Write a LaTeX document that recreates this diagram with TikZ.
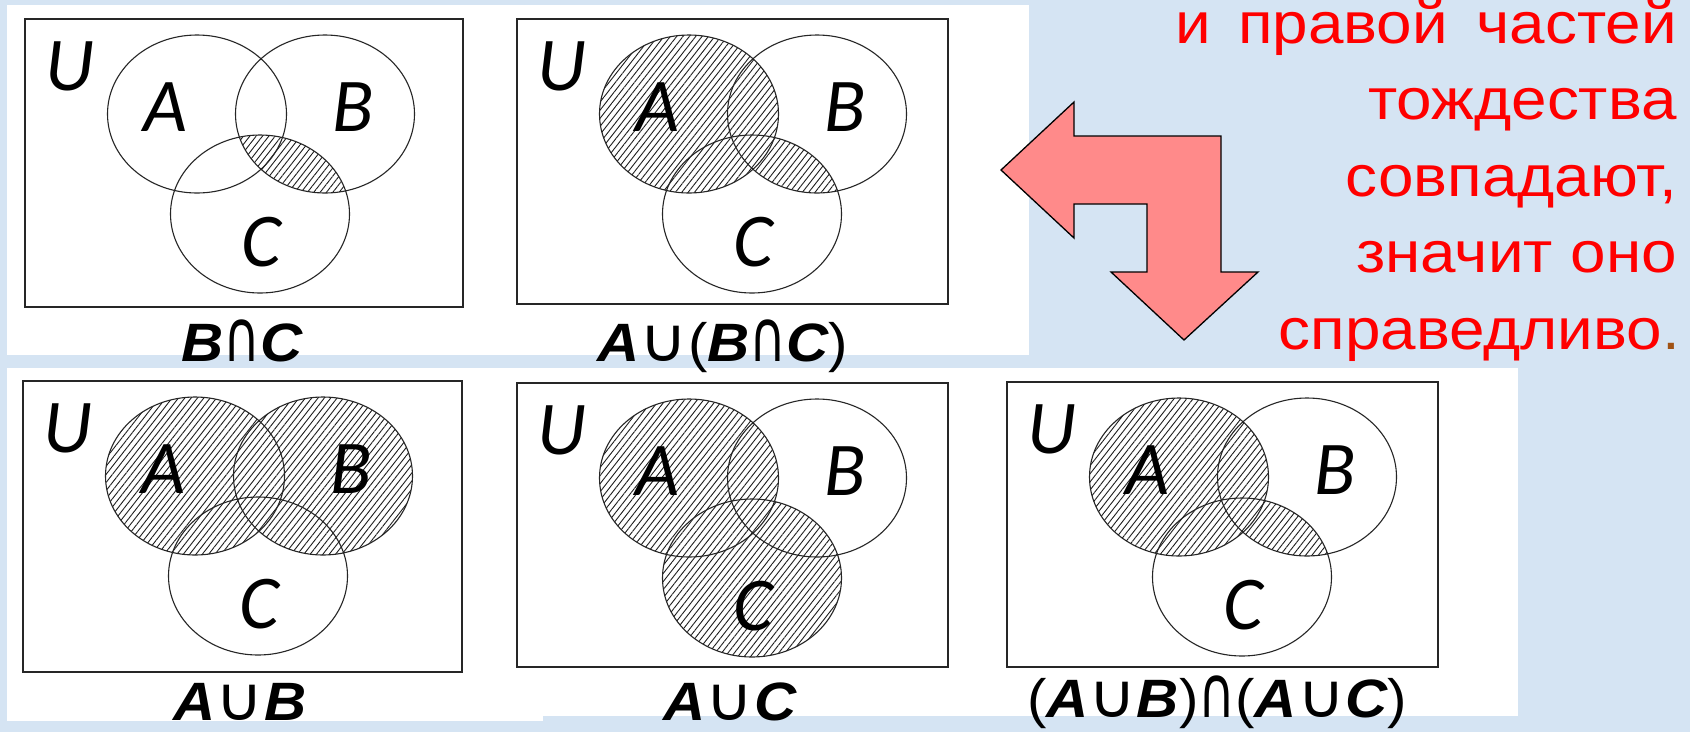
\documentclass[tikz,border=0pt]{standalone}
\usepackage{fontspec}
\setmainfont{Liberation Sans}
\newfontfamily\vennfont{Carlito}
\newfontfamily\symfont{DejaVu Sans}
\usetikzlibrary{patterns.meta}
\definecolor{bgblue}{RGB}{213,228,243}
\definecolor{arrowpink}{RGB}{255,138,138}
\definecolor{dotbrown}{RGB}{160,82,20}
\definecolor{hatchgray}{RGB}{30,30,30}
\tikzset{
 hatch/.style={pattern={Lines[angle=52,distance=5pt,line width=0.9pt]}, pattern color=hatchgray},
 ubox/.style={draw=black!85, line width=1.6pt},
 vcirc/.style={draw=black!85, line width=1.1pt},
 setlabel/.style={inner sep=0pt, font=\vennfont\itshape\fontsize{76}{76}\selectfont},
 caption/.style={inner sep=0pt, anchor=base, font=\fontsize{54}{54}\selectfont\bfseries\itshape},
 redtxt/.style={inner sep=0pt, text=red, font=\fontsize{58}{58}\selectfont},
 panel/.style={fill=white, draw=none},
 arrowshape/.style={fill=arrowpink, draw=black, line width=1.3pt, line join=miter}
}
\def\vEA{(172,95) ellipse [x radius=89.5pt, y radius=79pt]}
\def\vEB{(300,95) ellipse [x radius=89.5pt, y radius=79pt]}
\def\vEC{(235,195) ellipse [x radius=89.5pt, y radius=79pt]}
\newcommand\vennbox[6]{%
 \begin{scope}[shift={(#2,#3)}]
  #6
  \draw[vcirc] \vEA; \draw[vcirc] \vEB; \draw[vcirc] \vEC;
  \draw[ubox] (0,0) rectangle (#4,#5);
  \node[setlabel] (#1-U) at (45,47) {U};
  \node[setlabel] (#1-A) at (140,88) {A};
  \node[setlabel] (#1-B) at (328,88) {B};
  \node[setlabel] (#1-C) at (236,223) {C};
 \end{scope}}
\newcommand\AorBC{\fill[hatch] \vEA;
  \begin{scope}\clip \vEB;
   \begin{scope}[even odd rule]\clip (-200,-200) rectangle (700,500) \vEA;
    \fill[hatch, nonzero rule] \vEC; \end{scope}\end{scope}}
\newcommand\sx[1]{\scalebox{1.1}[1]{#1}}
\newcommand\capx[1]{\scalebox{1.08}[1]{#1}}
\newcommand\ucup{\raisebox{0pt}[\height][0pt]{\symfont\mdseries\upshape\fontsize{61}{61}\selectfont ∪}}
\newcommand\ucap{\raisebox{0pt}[\height][0pt]{\symfont\mdseries\upshape\fontsize{72}{72}\selectfont\scalebox{0.65}[1]{∩}}}
\newcommand\lpar{{\mdseries\upshape (}}
\newcommand\rpar{{\mdseries\upshape )}}
\begin{document}
\begin{tikzpicture}[x=1pt,y=-1pt]
\useasboundingbox (0,0) rectangle (1690,732);
\fill[bgblue] (0,0) rectangle (1690,732);
\fill[panel] (7,5) rectangle (1029,355);
\fill[panel] (7,368) rectangle (543,721);
\fill[panel] (543,368) rectangle (1518,716);
% arrow
\draw[arrowshape] (1001,170) -- (1074,102) -- (1074,136) -- (1221,136) -- (1221,272) -- (1258,272) -- (1184,340) -- (1111,272) -- (1147,272) -- (1147,204) -- (1074,204) -- (1074,238) -- cycle;
% red text
\node[redtxt, anchor=base west] (t1a) at (1175,43) {\sx{и}};
\node[redtxt, anchor=base west] (t1b) at (1238,43) {\sx{правой}};
\node[redtxt, anchor=base east] (t1c) at (1677,43) {\sx{частей}};
\node[redtxt, anchor=base east] (t2) at (1677,119) {\sx{тождества}};
\node[redtxt, anchor=base east] (t3) at (1677,196) {\sx{совпадают,}};
\node[redtxt, anchor=base east] (t4) at (1677,272) {\sx{значит оно}};
\node[redtxt, anchor=base east] (t5) at (1680,349) {\sx{справедливо\textcolor{dotbrown}{.}}};
% venn diagrams
\vennbox{v1}{25}{19}{438}{288}{\begin{scope}\clip \vEB; \fill[hatch] \vEC; \end{scope}}
\vennbox{v2}{517}{19}{431}{285}{\AorBC}
\vennbox{v3}{23}{381}{439}{291}{\fill[hatch] \vEA \vEB;}
\vennbox{v4}{517}{383}{431}{284}{\fill[hatch] \vEA \vEC;}
\vennbox{v5}{1007}{382}{431}{285}{\AorBC}
% captions
\node[caption] (c1) at (242,361) {\capx{B\ucap C}};
\node[caption] (c2) at (723,361) {\capx{A\ucup\lpar B\ucap C\rpar}};
\node[caption] (c3) at (240,720) {\capx{A\ucup B}};
\node[caption] (c4) at (730,720) {\capx{A\ucup C}};
\node[caption] (c5) at (1217,717) {\capx{\lpar A\ucup B\rpar\ucap\lpar A\ucup C\rpar}};
\end{tikzpicture}
\end{document}
